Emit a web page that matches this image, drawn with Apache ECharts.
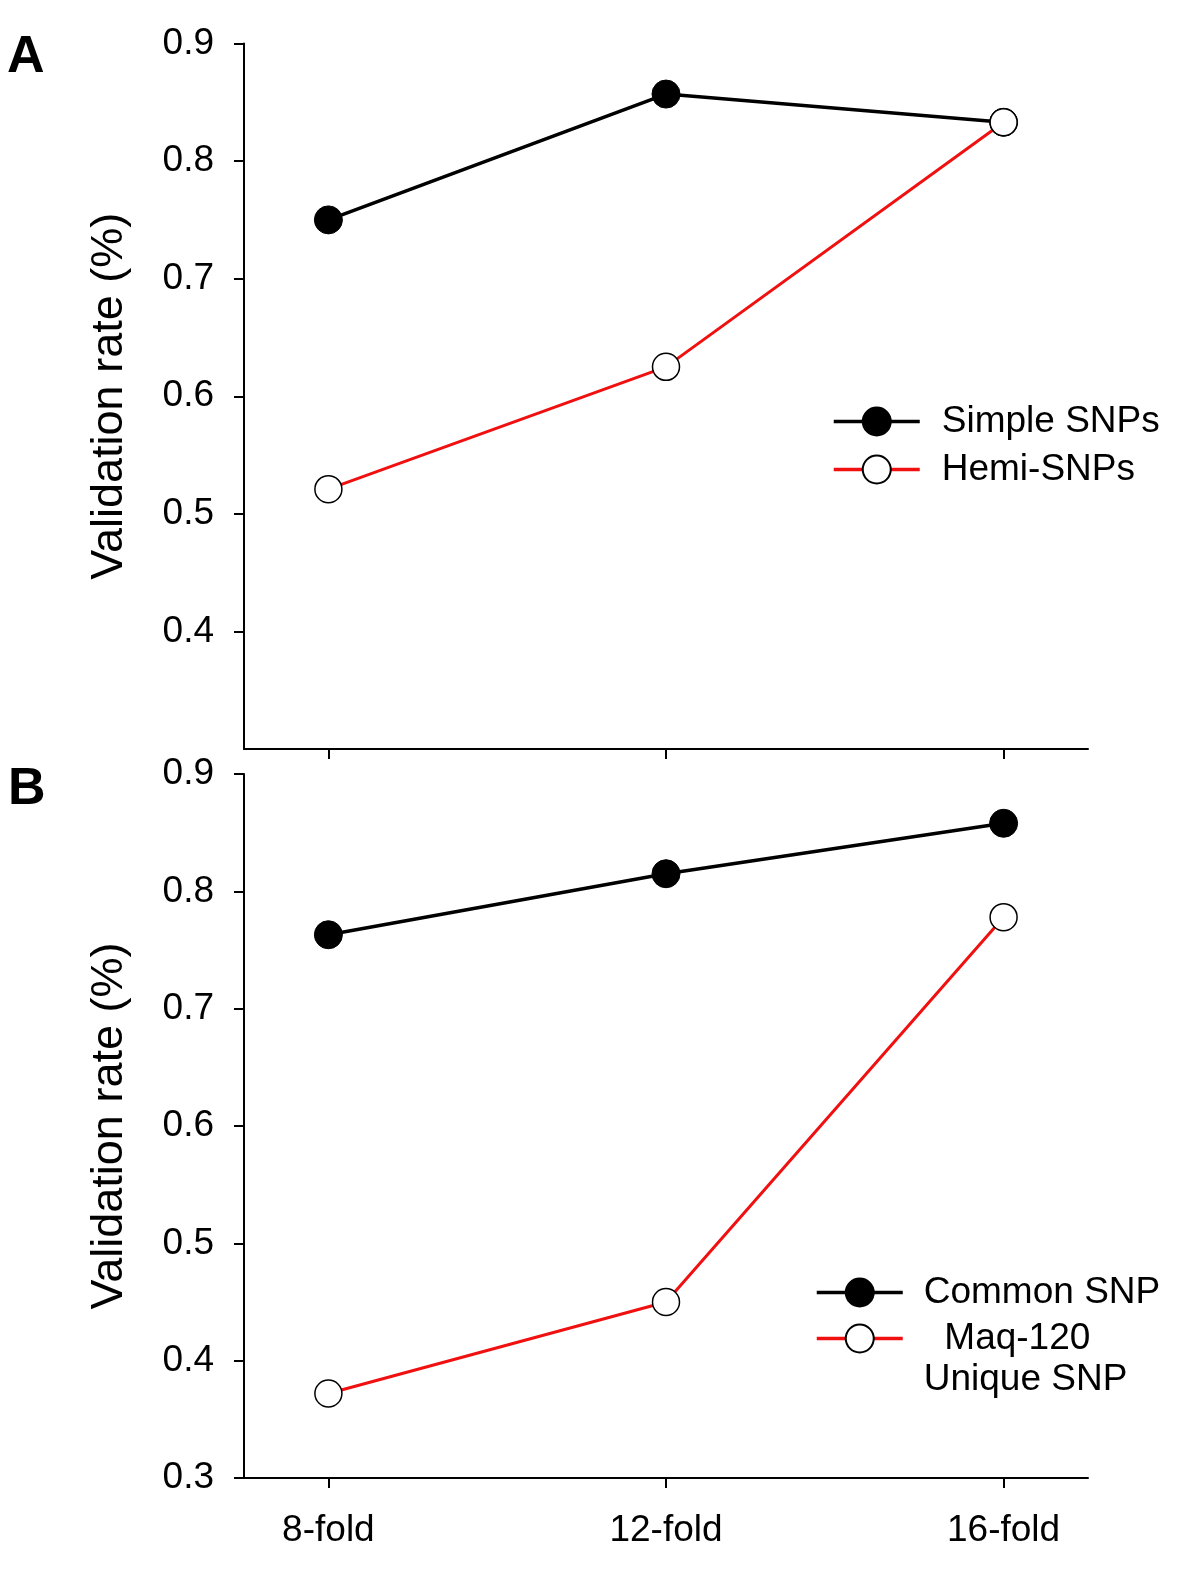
<!DOCTYPE html>
<html><head><meta charset="utf-8">
<script src="https://cdn.jsdelivr.net/npm/echarts@6/dist/echarts.min.js"></script>
<style>html,body{margin:0;padding:0;background:#fff}#c{width:1200px;height:1593px}</style>
</head><body><div id="c"></div>
<script>
// Data
const folds = [8, 12, 16];
const foldLabels = ['8-fold', '12-fold', '16-fold'];
const yTicks = [0.3, 0.4, 0.5, 0.6, 0.7, 0.8, 0.9];
const simpleSNPs = [0.750, 0.857, 0.833];
const hemiSNPs = [0.521, 0.625, 0.833];
const commonSNP = [0.763, 0.815, 0.858];
const maqUniqueSNP = [0.372, 0.450, 0.778];
const seriesNames = ['Simple SNPs', 'Hemi-SNPs', 'Common SNP', 'Maq-120 Unique SNP'];

const FONT = '"Liberation Sans", Arial, sans-serif';
const RED = '#f01010';

function pts(vals){ return folds.map((f,i)=>[f, vals[i]]); }

function xAxisDef(gi, showLabels){
  return {
    type:'value', gridIndex:gi, min:7, max:17,
    axisLine:{show:true, lineStyle:{color:'#000', width:2}},
    axisTick:{show:true, customValues:folds, length:10, lineStyle:{color:'#000', width:2}},
    axisLabel:{show:showLabels, customValues:folds, margin:34,
      formatter:v=>{const i=folds.indexOf(v);return i>=0?foldLabels[i]:'';},
      color:'#000', fontSize:37, fontFamily:FONT},
    splitLine:{show:false}
  };
}
function yAxisDef(gi, showMin){
  return {
    type:'value', gridIndex:gi, min:yTicks[0], max:yTicks[yTicks.length-1], interval:0.1,
    name:'Validation rate (%)', nameLocation:'middle', nameGap:112,
    nameTextStyle:{color:'#000', fontSize:45, fontFamily:FONT},
    axisLine:{show:true, lineStyle:{color:'#000', width:2}},
    axisTick:{show:true, length:10, lineStyle:{color:'#000', width:2}},
    axisLabel:{showMinLabel:showMin, margin:30, color:'#000', fontSize:37, fontFamily:FONT,
      formatter:v=>v.toFixed(1)},
    splitLine:{show:false}
  };
}
function filled(name, vals, gi){
  return {name, type:'line', xAxisIndex:gi, yAxisIndex:gi, data:pts(vals),
    symbol:'circle', symbolSize:28,
    lineStyle:{color:'#000', width:3.5}, itemStyle:{color:'#000', borderColor:'#000', borderWidth:1},
    emphasis:{disabled:true}, z:2};
}
function open(name, vals, gi){
  return {name, type:'line', xAxisIndex:gi, yAxisIndex:gi, data:pts(vals),
    symbol:'circle', symbolSize:27,
    lineStyle:{color:RED, width:3}, itemStyle:{color:'#fff', borderColor:'#000', borderWidth:1.5},
    emphasis:{disabled:true}, z:3};
}
const legendText = {color:'#000', fontSize:37, fontFamily:FONT};
const legendCommon = {orient:'vertical', padding:0, itemWidth:86, itemHeight:35,
  lineStyle:{width:3.5}, selectedMode:false};

const chart = echarts.init(document.getElementById('c'), null, {renderer:'canvas'});
chart.setOption({
  animation:false,
  backgroundColor:'#fff',
  grid:[
    {left:244, top:43.5, width:844, height:705.5, outerBoundsMode:'none'},
    {left:244, top:774, width:844, height:704, outerBoundsMode:'none'}
  ],
  xAxis:[xAxisDef(0,false), xAxisDef(1,true)],
  yAxis:[yAxisDef(0,false), yAxisDef(1,true)],
  legend:[
    Object.assign({data:[seriesNames[0], seriesNames[1]], left:832, top:403, itemGap:11,
      textStyle:Object.assign({padding:[0,0,0,17]}, legendText)}, legendCommon),
    Object.assign({data:[seriesNames[2]], left:815, top:1274,
      textStyle:Object.assign({padding:[0,0,0,16]}, legendText)}, legendCommon),
    Object.assign({data:[seriesNames[3]], left:815, top:1277,
      formatter:()=>'\n  Maq-120\nUnique SNP',
      textStyle:Object.assign({lineHeight:41, padding:[0,0,0,16]}, legendText)}, legendCommon)
  ],
  graphic:[
    {type:'text', left:7, top:32, style:{text:'A', fontSize:52, fontWeight:'bold', fontFamily:FONT, fill:'#000'}},
    {type:'text', left:8, top:764, style:{text:'B', fontSize:52, fontWeight:'bold', fontFamily:FONT, fill:'#000'}}
  ],
  series:[
    filled(seriesNames[0], simpleSNPs, 0),
    open(seriesNames[1], hemiSNPs, 0),
    filled(seriesNames[2], commonSNP, 1),
    open(seriesNames[3], maqUniqueSNP, 1)
  ]
});
</script></body></html>
